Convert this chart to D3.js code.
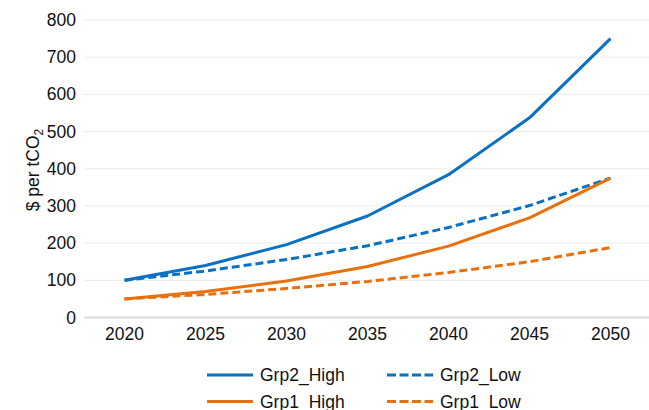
<!DOCTYPE html>
<html><head><meta charset="utf-8">
<script src="https://cdn.jsdelivr.net/npm/d3@7"></script>
<style>body{margin:0;background:#fff}svg{display:block}text{font-family:"Liberation Sans",Arial,sans-serif;fill:#111}</style>
</head><body><svg id="c" width="649" height="410"></svg>
<script>
const years = ["2020","2025","2030","2035","2040","2045","2050"];
const grp2High = [100,140,196,273,384,537,750];
const grp2Low  = [100,125,156,193,242,301,375];
const grp1High = [50,70,98,137,192,268,375];
const grp1Low  = [50,62,78,97,121,150,188];
const yTicks = [0,100,200,300,400,500,600,700,800];
const seriesNames = ["Grp2_High","Grp2_Low","Grp1_High","Grp1_Low"];

const blue = "#0a70c2", orange = "#e8710f";
const series = [
  {name:seriesNames[0], values:grp2High, color:blue, dash:null},
  {name:seriesNames[1], values:grp2Low, color:blue, dash:"8,4"},
  {name:seriesNames[2], values:grp1High, color:orange, dash:null},
  {name:seriesNames[3], values:grp1Low, color:orange, dash:"8,4"}
];

const FS = 17.5;
const svg = d3.select("#c");
const L=84, R=651, T=20, B=317.5;
const x = d3.scaleBand().domain(years).range([L,R]);
const y = d3.scaleLinear().domain([0,800]).range([B,T]);

// gridlines
svg.append("g").selectAll("line").data(yTicks.filter(d=>d>0)).join("line")
  .attr("x1",L).attr("x2",R).attr("y1",d=>y(d)).attr("y2",d=>y(d))
  .attr("stroke","#ebebeb").attr("stroke-width",1);
svg.append("line").attr("x1",L).attr("x2",R).attr("y1",y(0)).attr("y2",y(0))
  .attr("stroke","#d9d9d9").attr("stroke-width",2);

// y axis labels
const ya = svg.append("g").attr("transform",`translate(${L},0)`)
  .call(d3.axisLeft(y).tickValues(yTicks).tickSize(0).tickPadding(8));
ya.select(".domain").remove();
ya.selectAll("text").attr("font-size",FS).style("font-family","Liberation Sans, Arial, sans-serif").attr("fill","#111");

// x axis labels
const xa = svg.append("g").attr("transform",`translate(0,${B})`)
  .call(d3.axisBottom(x).tickSize(0).tickPadding(10));
xa.select(".domain").remove();
xa.selectAll("text").attr("font-size",FS).style("font-family","Liberation Sans, Arial, sans-serif").attr("fill","#111");

// y title
const yt = svg.append("text").attr("transform","translate(39,170) rotate(-90)")
  .attr("text-anchor","middle").attr("font-size",FS);
yt.append("tspan").text("$ per tCO");
yt.append("tspan").text("2").attr("font-size",12).attr("dy",4);

// lines
const line = d3.line().x((d,i)=>x(years[i])+x.bandwidth()/2).y(d=>y(d));
svg.append("g").selectAll("path").data(series).join("path")
  .attr("d",d=>line(d.values)).attr("fill","none")
  .attr("stroke",d=>d.color).attr("stroke-width",3)
  .attr("stroke-dasharray",d=>d.dash).attr("stroke-linejoin","round");

// legend
const lg = svg.append("g");
const pos = [[207,375],[387,375],[207,401.5],[387,401.5]];
series.forEach((s,i)=>{
  const [lx,ly]=pos[i];
  lg.append("line").attr("x1",lx).attr("x2",lx+46).attr("y1",ly).attr("y2",ly)
    .attr("stroke",s.color).attr("stroke-width",3).attr("stroke-dasharray",s.dash?"9,3.5":null);
  lg.append("text").attr("x",lx+53).attr("y",ly+6).attr("font-size",FS).text(s.name);
});
</script></body></html>
